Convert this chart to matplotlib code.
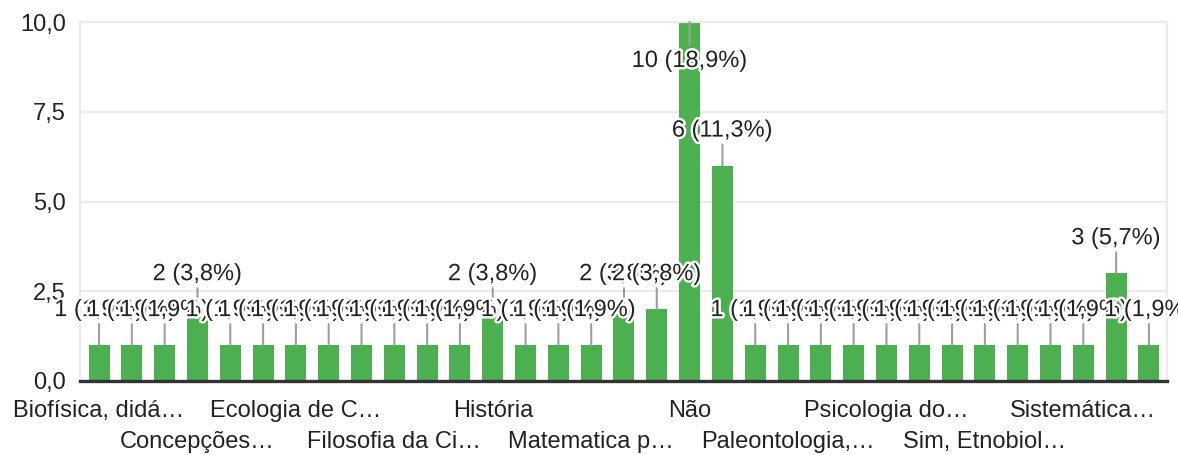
import matplotlib
matplotlib.use("Agg")
import matplotlib.pyplot as plt
import matplotlib.patheffects as pe

# ---- data ----
values = [1, 1, 1, 2, 1, 1, 1, 1, 1, 1, 1, 1, 2, 1, 1, 1, 2, 2, 10, 6,
          1, 1, 1, 1, 1, 1, 1, 1, 1, 1, 1, 3, 1]
tick_labels = ["Biofísica, didá…", "Concepções…", "Ecologia de C…", "Filosofia da Ci…",
               "História", "Matematica p…", "Não", "Paleontologia,…",
               "Psicologia do…", "Sim, Etnobiol…", "Sistemática…"]
yticks = [0, 2.5, 5, 7.5, 10]
ytick_labels = ["0,0", "2,5", "5,0", "7,5", "10,0"]

BAR = "#4caf50"
TXT = "#222222"
GRID = "#ebebeb"
LEAD = "#9e9e9e"
FONT = "Liberation Sans"
FS = 17

plt.rcParams['font.family'] = [FONT, 'DejaVu Sans']

fig = plt.figure(figsize=(11.78, 4.55), dpi=100)
ax = fig.add_axes([80/1178, 1-381/455, (1167-80)/1178, (381-22)/455])

n = len(values)
xs = list(range(n))
ax.bar(xs, values, width=0.64, color=BAR, zorder=2)

ax.set_xlim(-0.58, n - 1 + 0.55)
ax.set_ylim(0, 10)

# grid / frame
ax.set_yticks(yticks)
ax.set_yticklabels(ytick_labels, fontsize=FS, color=TXT)
ax.tick_params(axis='y', length=0, pad=10)
ax.grid(axis='y', color=GRID, linewidth=1.6, zorder=0)
for s in ['left', 'right', 'top']:
    ax.spines[s].set_color(GRID)
    ax.spines[s].set_linewidth(1.6)
ax.spines['bottom'].set_color('#333333')
ax.spines['bottom'].set_linewidth(2.4)
ax.spines['bottom'].set_zorder(5)

# x tick labels on two staggered rows
tick_pos = xs[::3]
major = tick_pos[::2]
minor = tick_pos[1::2]
ax.set_xticks(major)
ax.set_xticklabels(tick_labels[::2], fontsize=FS, color=TXT)
ax.set_xticks(minor, minor=True)
ax.set_xticklabels(tick_labels[1::2], minor=True, fontsize=FS, color=TXT)
ax.tick_params(axis='x', which='major', length=0, pad=14)
ax.tick_params(axis='x', which='minor', length=0, pad=36)

# value labels with leader lines
total = sum(values)
halo = [pe.withStroke(linewidth=3.5, foreground='white')]
for i, v in enumerate(values):
    pct = f"{100 * v / total:.1f}".replace('.', ',')
    label = f"{v} ({pct}%)"
    if v >= 10:
        lead_off, text_off = -23, -39
    else:
        lead_off, text_off = 21, 35
    ax.annotate('', xy=(i, v), xytext=(0, lead_off), textcoords='offset pixels',
                arrowprops=dict(arrowstyle='-', color=LEAD, lw=1.5,
                                shrinkA=0, shrinkB=0),
                zorder=3, annotation_clip=False)
    ax.annotate(label, xy=(i, v), xytext=(0, text_off), textcoords='offset pixels',
                ha='center', va='center', fontsize=FS, color=TXT,
                path_effects=halo, zorder=10 + i, annotation_clip=False)

fig.savefig("out.png", dpi=100)
